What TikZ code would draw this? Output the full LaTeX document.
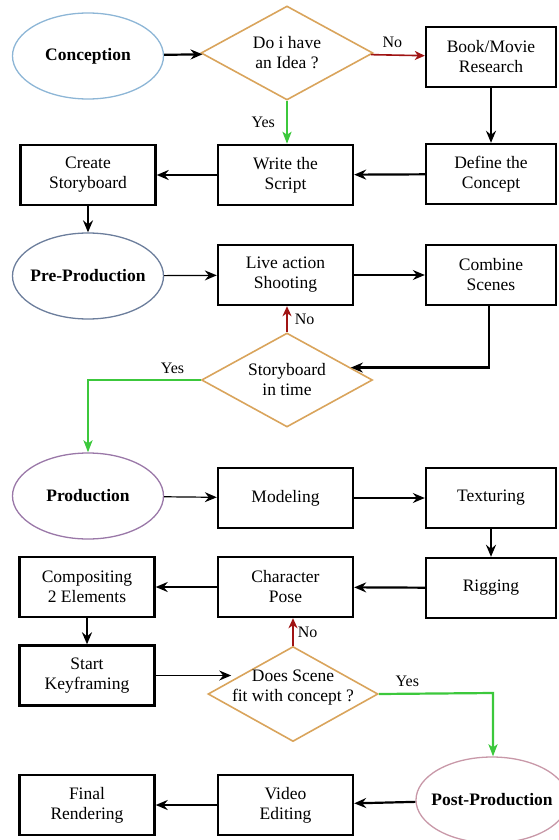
\documentclass[tikz,border=0pt]{standalone}
\usepackage{fontspec}
\setmainfont{Liberation Serif}
\usetikzlibrary{shapes.geometric,arrows.meta}
\definecolor{cblue}{HTML}{8DB6D6}
\definecolor{pblue}{HTML}{6C7E9C}
\definecolor{prodpurple}{HTML}{9A78A8}
\definecolor{postpink}{HTML}{C898A8}
\definecolor{dorange}{HTML}{D9A45C}
\definecolor{nored}{HTML}{A01414}
\definecolor{yesgreen}{HTML}{3CC83C}
\tikzset{
  stepbox/.style={draw=black, line width=2.4pt, minimum height=60pt, align=center, font=\fontsize{17.5}{20}\selectfont, inner sep=2pt},
  midbox/.style={stepbox, minimum width=135pt},
  leftbox/.style={stepbox, minimum width=135pt},
  rightbox/.style={stepbox, minimum width=130pt},
  phase/.style={ellipse, line width=1.3pt, inner sep=0pt, minimum width=151pt, minimum height=86pt,
    label={[font=\bfseries\fontsize{17.5}{20}\selectfont, inner sep=0pt]center:#1}},
  decision/.style={diamond, draw=dorange, line width=1.6pt, inner sep=0pt,
    label={[font=\fontsize{17.5}{20}\selectfont, align=center, inner sep=0pt]center:#1}},
  decisionup/.style={diamond, draw=dorange, line width=1.6pt, inner sep=0pt,
    label={[font=\fontsize{17.5}{20}\selectfont, align=center, inner sep=0pt, yshift=6pt]center:#1}},
  thick arrow/.style={draw=black, line width=2.2pt, -{Stealth[length=12pt,width=10pt,inset=4pt]}},
  thin arrow/.style={draw=black, line width=1.2pt, -{Stealth[length=12pt,width=10pt,inset=4pt]}},
  no arrow/.style={draw=nored, line width=1.6pt, -{Stealth[length=10pt,width=9pt,inset=3pt]}},
  yes arrow/.style={draw=yesgreen, line width=2.2pt, -{Stealth[length=12pt,width=9pt,inset=3pt]}},
  lbl/.style={font=\fontsize{16}{18}\selectfont, inner sep=1pt, text=black}
}
\begin{document}
\begin{tikzpicture}[x=1pt,y=-1pt]
\useasboundingbox (0,0) rectangle (558,840);
% row 1
\node[phase=Conception, draw=cblue] (concep) at (88,56) {};
\node[decision={Do i have\\an Idea ?}, minimum width=172pt, minimum height=94pt] (idea) at (287,53) {};
\node[rightbox] (book) at (491,57) {Book/Movie\\Research};
% row 2
\node[leftbox] (story) at (88,175) {Create\\Storyboard};
\node[midbox] (script) at (285.5,175) {Write the\\Script};
\node[rightbox] (define) at (491,174) {Define the\\Concept};
% row 3
\node[phase=Pre-Production, draw=pblue] (pre) at (88,276) {};
\node[midbox] (live) at (285.5,275) {Live action\\Shooting};
\node[rightbox] (combine) at (491,275) {Combine\\Scenes};
\node[decision={Storyboard\\in time}, minimum width=171pt, minimum height=94pt] (sbtime) at (287,380) {};
% row 4
\node[phase=Production, draw=prodpurple] (prod) at (88,496) {};
\node[midbox] (model) at (285.5,498) {Modeling};
\node[rightbox] (texture) at (491,498) {Texturing};
% row 5
\node[leftbox] (compo) at (87,587) {Compositing\\2 Elements};
\node[midbox] (pose) at (285.5,587) {Character\\Pose};
\node[rightbox] (rig) at (491,588) {Rigging};
% row 6
\node[leftbox] (keyf) at (87,675.5) {Start\\Keyframing};
\node[decisionup={Does Scene\\fit with concept ?}, minimum width=170pt, minimum height=95pt] (fit) at (293,694) {};
% row 7
\node[leftbox] (final) at (87,805) {Final\\Rendering};
\node[midbox] (video) at (285.5,805) {Video\\Editing};
\node[phase=Post-Production, draw=postpink, minimum width=152pt] (post) at (492,800) {};
% connectors
\draw[thick arrow] (concep) -- (idea);
\draw[no arrow] (idea) -- node[lbl, above=6pt, pos=0.4] {No} (book);
\draw[yes arrow] (idea.south) -- node[lbl, left=10pt] {Yes} (idea.south |- script.north);
\draw[thick arrow] (book) -- (define);
\draw[thick arrow] (define) -- (script);
\draw[thick arrow] (script) -- (story);
\draw[thick arrow] (story) -- (pre);
\draw[thin arrow] (pre) -- (live);
\draw[thin arrow] (live) -- (combine);
\draw[thick arrow] (combine.south -| 489,0) |- (sbtime.11);
\draw[no arrow] (sbtime.north) -- node[lbl, right=6pt] {No} (sbtime.north |- live.south);
\draw[yes arrow] (sbtime.west) -- node[lbl, above=4pt, pos=0.25] {Yes} (sbtime.west -| prod.north) -- (prod.north);
\draw[thin arrow] (prod) -- (model);
\draw[thin arrow] (model) -- (texture);
\draw[thick arrow] (texture) -- (rig);
\draw[thick arrow] (rig) -- (pose);
\draw[thick arrow] (pose) -- (compo);
\draw[thick arrow] (compo) -- (keyf);
\draw[thin arrow] (keyf) -- ([xshift=24pt]keyf -| fit.west);
\draw[no arrow] (fit.north) -- node[lbl, right=3pt] {No} (fit.north |- pose.south);
\coordinate (fcorner) at (493,693);
\draw[yes arrow] (fit.east) -- node[lbl, above=5pt, pos=0.25] {Yes} (fcorner) -- (fcorner |- post.north);
\draw[thick arrow] (post) -- (video);
\draw[thick arrow] (video) -- (final);
\end{tikzpicture}
\end{document}
